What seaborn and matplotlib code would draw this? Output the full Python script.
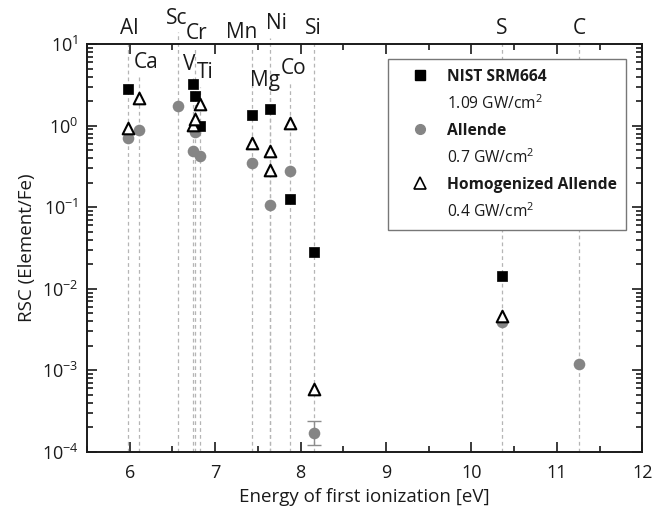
import numpy as np
import pandas as pd
import matplotlib
matplotlib.use('Agg')
import matplotlib.pyplot as plt
import matplotlib.transforms as mtransforms
from matplotlib.lines import Line2D
from matplotlib.ticker import MultipleLocator, LogLocator
import seaborn as sns

# first ionization energies [eV] of the elements marked on the chart
elements = ['Al', 'Ca', 'Sc', 'V', 'Cr', 'Ti', 'Mn', 'Mg', 'Ni', 'Co', 'Si', 'S', 'C']
energies = [5.986, 6.113, 6.561, 6.746, 6.767, 6.828, 7.434, 7.646, 7.640, 7.881, 8.152, 10.360, 11.260]

# label anchor (x in eV, y in axes fraction); labels above 1.0 sit over the frame
label_x = [5.99, 6.19, 6.554, 6.694, 6.788, 6.882, 7.315, 7.584, 7.713, 7.924, 8.146, 10.36, 11.26]
label_y = [1.039, 0.956, 1.064, 0.951, 1.025, 0.931, 1.029, 0.912, 1.051, 0.941, 1.039, 1.039, 1.039]

# NIST SRM664, 1.09 GW/cm2
nist_el = ['Al', 'V', 'Cr', 'Ti', 'Mn', 'Ni', 'Co', 'Si', 'S']
nist_val = [2.8, 3.24, 2.33, 0.99, 1.37, 1.58, 0.125, 0.0285, 0.0145]

# Allende, 0.7 GW/cm2
allende_el = ['Al', 'Ca', 'Sc', 'V', 'Cr', 'Ti', 'Mn', 'Mg', 'Co', 'Si', 'S', 'C']
allende_val = [0.71, 0.88, 1.75, 0.49, 0.84, 0.43, 0.345, 0.106, 0.28, 1.73e-4, 3.9e-3, 1.2e-3]

# Homogenized Allende, 0.4 GW/cm2
homog_el = ['Al', 'Ca', 'V', 'Cr', 'Ti', 'Mn', 'Ni', 'Mg', 'Co', 'Si', 'S']
homog_val = [0.93, 2.16, 1.02, 1.20, 1.82, 0.61, 0.49, 0.286, 1.07, 5.9e-4, 4.6e-3]

# error bar on the Allende Si point (lower/upper)
si_err_lo = 0.5e-4
si_err_hi = 0.7e-4

sns.set_theme(style='ticks')
plt.rcParams['font.family'] = ['Open Sans', 'DejaVu Sans']
plt.rcParams['mathtext.fontset'] = 'custom'
plt.rcParams['mathtext.rm'] = 'Open Sans'
plt.rcParams['mathtext.it'] = 'Open Sans:italic'
plt.rcParams['mathtext.bf'] = 'Open Sans:bold'

e_of = dict(zip(elements, energies))
df_nist = pd.DataFrame({'E': [e_of[e] for e in nist_el], 'RSC': nist_val})
df_all = pd.DataFrame({'E': [e_of[e] for e in allende_el], 'RSC': allende_val})
df_hom = pd.DataFrame({'E': [e_of[e] for e in homog_el], 'RSC': homog_val})

fig = plt.figure(figsize=(6.54, 5.13), dpi=100)
ax = fig.add_axes([0.133, 0.119, 0.849, 0.795])

ax.set_yscale('log')
ax.set_xlim(5.5, 12)
ax.set_ylim(1e-4, 10)

# vertical dashed guide lines up to each label
trans = mtransforms.blended_transform_factory(ax.transData, ax.transAxes)
for e, ly in zip(energies, label_y):
    top = ly - 0.035
    ax.plot([e, e], [0, top], transform=trans, color='#b5b5b5', lw=0.9,
            ls=(0, (3, 2.5)), clip_on=False, zorder=1)

for name, lx, ly in zip(elements, label_x, label_y):
    ax.text(lx, ly, name, transform=trans, ha='center', va='center',
            fontsize=15, color='#1a1a1a', clip_on=False)

# error bar for the Si Allende point
si_x = e_of['Si']
si_y = allende_val[allende_el.index('Si')]
ax.errorbar([si_x], [si_y], yerr=[[si_err_lo], [si_err_hi]], fmt='none',
            ecolor='#8c8c8c', elinewidth=1, capsize=5, zorder=2)

sns.scatterplot(data=df_all, x='E', y='RSC', ax=ax, marker='o', s=70,
                color='#858585', edgecolor='#858585', linewidth=0, zorder=3)
sns.scatterplot(data=df_nist, x='E', y='RSC', ax=ax, marker='s', s=52,
                color='black', edgecolor='black', linewidth=0.5, zorder=4)
sns.scatterplot(data=df_hom, x='E', y='RSC', ax=ax, marker='^', s=70,
                facecolor='white', edgecolor='black', linewidth=1.5, zorder=5)

ax.set_xlabel('Energy of first ionization [eV]', fontsize=13.5, color='#1a1a1a')
ax.set_ylabel('RSC (Element/Fe)', fontsize=13.5, color='#1a1a1a')

ax.xaxis.set_major_locator(MultipleLocator(1))
ax.xaxis.set_minor_locator(MultipleLocator(0.5))
ax.yaxis.set_major_locator(LogLocator(base=10, numticks=10))
ax.yaxis.set_minor_locator(LogLocator(base=10, subs=np.arange(2, 10), numticks=20))
ax.tick_params(which='both', direction='in', top=True, right=True, width=1.2,
               colors='#1a1a1a', labelsize=13)
ax.tick_params(which='major', length=7)
ax.tick_params(which='minor', length=4)
ax.tick_params(axis='x', pad=9)
ax.tick_params(axis='y', pad=6)
for sp in ax.spines.values():
    sp.set_linewidth(1.4)
    sp.set_color('#1a1a1a')

# legend with the fluence lines as blank entries
blank = Line2D([], [], linestyle='none')
handles = [
    Line2D([], [], marker='s', color='black', linestyle='none', markersize=7),
    blank,
    Line2D([], [], marker='o', color='#858585', linestyle='none', markersize=7),
    blank,
    Line2D([], [], marker='^', markerfacecolor='white', markeredgecolor='black',
           markeredgewidth=1.2, linestyle='none', markersize=8),
    blank,
]
labels = ['NIST SRM664', '1.09 GW/cm$^2$', 'Allende', '0.7 GW/cm$^2$',
          'Homogenized Allende', '0.4 GW/cm$^2$']
leg = ax.legend(handles, labels, loc='upper right', bbox_to_anchor=(0.971, 0.963),
                fontsize=11.25, frameon=True, fancybox=False, edgecolor='#777777',
                framealpha=1, handlelength=3.0, handletextpad=0.2, labelspacing=0.62,
                borderpad=0.6, borderaxespad=0)
leg.get_frame().set_linewidth(1.0)
for i, t in enumerate(leg.get_texts()):
    t.set_color('#1a1a1a')
    if i % 2 == 0:
        t.set_fontweight('bold')

fig.savefig('out.png', dpi=100)
